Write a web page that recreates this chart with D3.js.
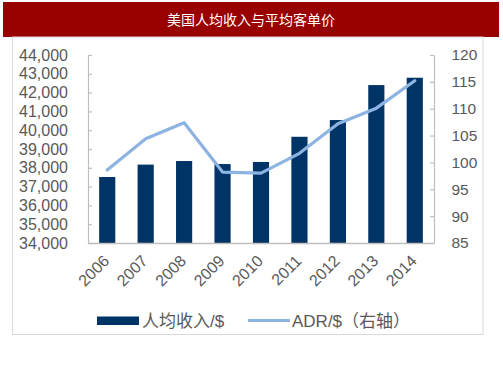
<!DOCTYPE html>
<html><head><meta charset="utf-8">
<script src="https://cdn.jsdelivr.net/npm/d3@7"></script>
<style>
html,body{margin:0;padding:0;background:#fff;}
svg{display:block;font-family:"Liberation Sans",Arial,"Noto Sans CJK SC",sans-serif;}
</style></head>
<body><svg id="c" width="503" height="378"></svg>
<script>
const title = "美国人均收入与平均客单价";
const years = ["2006","2007","2008","2009","2010","2011","2012","2013","2014"];
const income = [37510, 38170, 38360, 38200, 38310, 39650, 40540, 42400, 42790];
const adr = [98.6, 104.4, 107.4, 98.2, 98.0, 101.7, 107.2, 110.1, 115.2];
const leftTicks = [34000,35000,36000,37000,38000,39000,40000,41000,42000,43000,44000];
const rightTicks = [85,90,95,100,105,110,115,120];
const seriesNames = ["人均收入/$", "ADR/$（右轴）"];

const svg = d3.select("#c");
const W = 503, H = 378;
const plot = {l: 88, r: 434, t: 55, b: 243};
const barColor = "#003366", lineColor = "#8DB3E2", axisColor = "#BFBFBF", textColor = "#595959";

// title bar
svg.append("rect").attr("x", 3).attr("y", 2).attr("width", 496).attr("height", 35).attr("fill", "#990000");
svg.append("text").attr("x", 251).attr("y", 25).attr("text-anchor", "middle")
  .attr("fill", "#fff").style("font-size", "14px").style("font-family", "'Noto Sans CJK SC',sans-serif").text(title);
// panel border
svg.append("rect").attr("x", 12.5).attr("y", 37).attr("width", 470.5).attr("height", 297.5)
  .attr("fill", "none").attr("stroke", "#D9D9D9").attr("stroke-width", 1);

const x = d3.scaleBand().domain(years).range([plot.l, plot.r]).paddingInner(0.58).paddingOuter(0.29);
const yL = d3.scaleLinear().domain([34000, 44000]).range([plot.b, plot.t]);
const yR = d3.scaleLinear().domain([85, 120]).range([plot.b, plot.t]);

// left axis
const gL = svg.append("g").attr("transform", `translate(${plot.l},0)`)
  .call(d3.axisLeft(yL).tickValues(leftTicks).tickFormat(d3.format(",")).tickSizeInner(-4).tickSizeOuter(0).tickPadding(20));
// right axis
const gR = svg.append("g").attr("transform", `translate(${plot.r},0)`)
  .call(d3.axisRight(yR).tickValues(rightTicks).tickSizeInner(-4).tickSizeOuter(0).tickPadding(17.5));
[gL, gR].forEach(g => {
  g.select(".domain").attr("stroke", axisColor).attr("stroke-width", 1.2);
  g.selectAll(".tick line").attr("stroke", axisColor).attr("stroke-width", 1.2);
  g.selectAll(".tick text").attr("fill", textColor).style("font-size", "16px")
    .style("font-family", "'Liberation Sans',Arial,sans-serif");
});
gR.selectAll(".tick text").style("font-size", "15.5px");

// bars
svg.append("g").selectAll("rect").data(years).join("rect")
  .attr("x", d => x(d)).attr("width", x.bandwidth())
  .attr("y", (d, i) => yL(income[i])).attr("height", (d, i) => plot.b - yL(income[i]))
  .attr("fill", barColor);

// bottom axis
const gB = svg.append("g").attr("transform", `translate(0,${plot.b})`)
  .call(d3.axisBottom(x).tickSize(0).tickPadding(0));
gB.select(".domain").attr("stroke", axisColor).attr("stroke-width", 1.5);
gB.selectAll(".tick text")
  .attr("fill", textColor).style("font-size", "16px")
  .attr("text-anchor", "end").attr("dy", null)
  .attr("y", 0).attr("x", 0)
  .attr("transform", "translate(3,19) rotate(-45)");

// line
const line = d3.line().x((d, i) => x(years[i]) + x.bandwidth() / 2).y(d => yR(d));
svg.append("path").datum(adr).attr("d", line).attr("fill", "none")
  .attr("stroke", lineColor).attr("stroke-width", 3.2).attr("stroke-linejoin", "round").attr("stroke-linecap", "round");

// legend
const lg = svg.append("g");
lg.append("rect").attr("x", 97).attr("y", 316.5).attr("width", 42).attr("height", 8.5).attr("fill", barColor);
lg.append("text").attr("x", 142).attr("y", 326.5).attr("fill", textColor).style("font-size", "17px").text(seriesNames[0]);
lg.append("line").attr("x1", 248).attr("x2", 290).attr("y1", 320.5).attr("y2", 320.5)
  .attr("stroke", lineColor).attr("stroke-width", 3.2);
lg.append("text").attr("x", 292).attr("y", 326.5).attr("fill", textColor).style("font-size", "17px").text(seriesNames[1]);
</script></body></html>
